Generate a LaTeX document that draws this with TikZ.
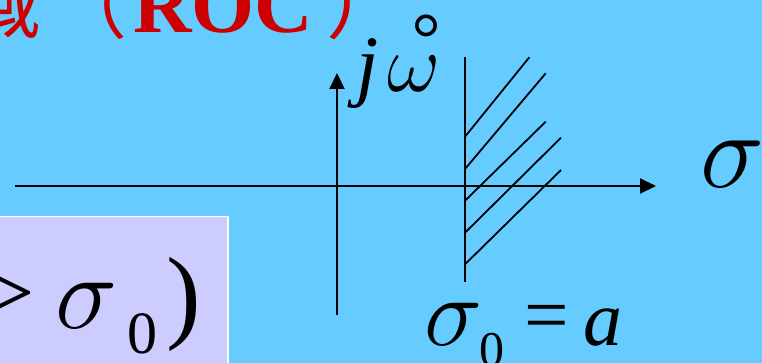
\RequirePackage{fix-cm}
\documentclass[tikz,border=0pt]{standalone}
\usepackage{fontspec}
\setmainfont{Liberation Serif}
\newfontfamily\cjk{Noto Sans CJK SC}
\usetikzlibrary{arrows.meta}
\definecolor{bgblue}{HTML}{66CCFF}
\definecolor{boxfill}{HTML}{CCCCFF}
\definecolor{titlered}{HTML}{CC0000}
\tikzset{
  axisline/.style={line width=2pt,-{Triangle[length=16pt,width=15pt]}},
  plainline/.style={line width=2pt},
  hatchline/.style={line width=1.8pt},
  lbl/.style={inner sep=0pt,outer sep=0pt,anchor=base west}
}
\newcommand{\fs}[1]{\fontsize{#1}{#1}\selectfont}
\begin{document}
\begin{tikzpicture}[x=1pt,y=-1pt]
\useasboundingbox (0,0) rectangle (762,363);
\clip (0,0) rectangle (762,363);
\fill[bgblue] (0,0) rectangle (762,363);

% title fragment
\node[lbl,text=titlered] (t1) at (-33,33) {\fs{75}\cjk 域};
\node[lbl,text=titlered] (t2) at (52,33) {\fs{75}\cjk （};
\node[lbl,text=titlered] (t3) at (133,33) {\fs{81}\bfseries ROC};
\node[lbl,text=titlered] (t4) at (326,33) {\fs{78}\cjk ）};
\node[lbl] (t5) at (412,33) {\fs{72}\cjk 。};

% box
\node[inner sep=0pt,draw=white,line width=1.5pt,fill=boxfill,minimum width=232pt,minimum height=160pt,anchor=north west] (box) at (-5,216) {};
\node[lbl] (bgt) at (-18,324) {\fs{95}>};
\node[lbl] (bsig) at (55,328) {\fs{105}$\sigma$};
\node[lbl] (bsub) at (127,353) {\fs{60}0};
\node[lbl] (bpar) at (166,329) {\fs{104})};

% axes
\coordinate (hstart) at (15,186);
\coordinate (hend) at (656,186);
\coordinate (vstart) at (337,315);
\coordinate (vend) at (337,73);
\draw[axisline] (hstart) -- (hend);
\draw[axisline] (vstart) -- (vend);

% boundary line
\coordinate (btop) at (465,57);
\coordinate (bbot) at (465,282);
\draw[plainline] (btop) -- (bbot);

% hatching
\draw[hatchline] (465,136.7) -- (529.3,57.3);
\draw[hatchline] (465,169) -- (545.7,73.3);
\draw[hatchline] (465,200.7) -- (545.7,121.7);
\draw[hatchline] (465,232.7) -- (561,137.7);
\draw[hatchline] (465,264.3) -- (561,170);

% labels
\node[lbl] (j) at (356,92) {\fs{80}\textit{j}};
\node[lbl] (w) at (387,92) {\fs{82}$\omega$};
\node[lbl] (sig) at (700,188) {\fs{108}$\sigma$};
\node[lbl] (s0) at (424,345) {\fs{98}$\sigma$};
\node[lbl] (s0sub) at (479,366) {\fs{50}0};
\node[lbl] (eq) at (524,341) {\fs{79}=};
\node[lbl] (a) at (583,345) {\fs{78}\textit{a}};
\end{tikzpicture}
\end{document}
